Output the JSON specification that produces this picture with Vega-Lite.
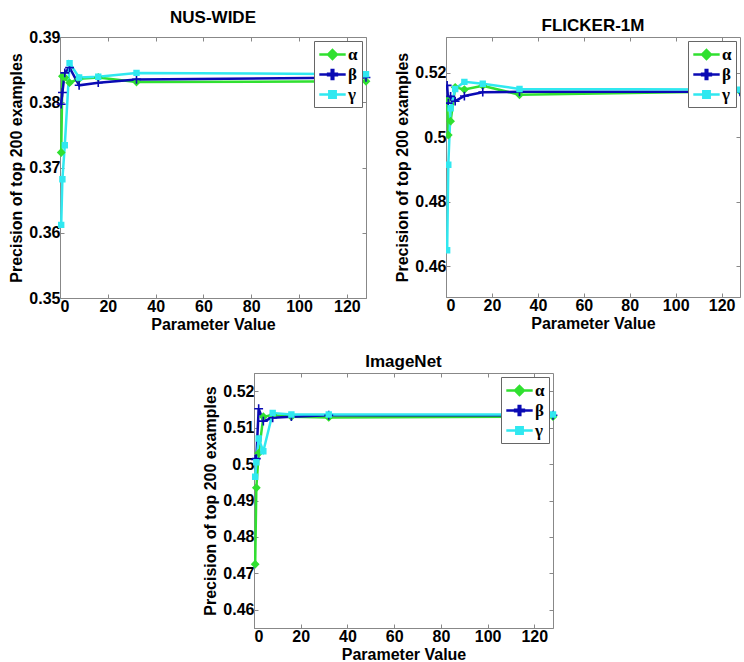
{
 "$schema": "https://vega.github.io/schema/vega-lite/v6.json",
 "padding": {"left": 8, "top": 8, "right": 0, "bottom": 0},
 "background": "white",
 "datasets": {
  "nus": [
   {"x":0.5,"s":"α","v":0.3723},{"x":1,"s":"α","v":0.3840},{"x":2,"s":"α","v":0.3838},{"x":4,"s":"α","v":0.3830},{"x":8,"s":"α","v":0.3836},{"x":16,"s":"α","v":0.3838},{"x":32,"s":"α","v":0.3831},{"x":128,"s":"α","v":0.3832},
   {"x":0.5,"s":"β","v":0.3797},{"x":1,"s":"β","v":0.3815},{"x":2,"s":"β","v":0.3845},{"x":4,"s":"β","v":0.3853},{"x":8,"s":"β","v":0.3826},{"x":16,"s":"β","v":0.3830},{"x":32,"s":"β","v":0.3835},{"x":128,"s":"β","v":0.3838},
   {"x":0.5,"s":"γ","v":0.3612},{"x":1,"s":"γ","v":0.3682},{"x":2,"s":"γ","v":0.3734},{"x":4,"s":"γ","v":0.3860},{"x":8,"s":"γ","v":0.3838},{"x":16,"s":"γ","v":0.3839},{"x":32,"s":"γ","v":0.3845},{"x":128,"s":"γ","v":0.3843}
  ],
  "flickr": [
   {"x":0.5,"s":"α","v":0.5115},{"x":1,"s":"α","v":0.5007},{"x":2,"s":"α","v":0.5050},{"x":4,"s":"α","v":0.5155},{"x":8,"s":"α","v":0.5148},{"x":16,"s":"α","v":0.5160},{"x":32,"s":"α","v":0.5132},{"x":128,"s":"α","v":0.5143},
   {"x":0.5,"s":"β","v":0.5161},{"x":1,"s":"β","v":0.5106},{"x":2,"s":"β","v":0.5127},{"x":4,"s":"β","v":0.5112},{"x":8,"s":"β","v":0.5128},{"x":16,"s":"β","v":0.5140},{"x":32,"s":"β","v":0.5141},{"x":128,"s":"β","v":0.5141},
   {"x":0.5,"s":"γ","v":0.4650},{"x":1,"s":"γ","v":0.4915},{"x":2,"s":"γ","v":0.5090},{"x":4,"s":"γ","v":0.5150},{"x":8,"s":"γ","v":0.5172},{"x":16,"s":"γ","v":0.5166},{"x":32,"s":"γ","v":0.5150},{"x":128,"s":"γ","v":0.5148}
  ],
  "imagenet": [
   {"x":0.5,"s":"α","v":0.4725},{"x":1,"s":"α","v":0.4935},{"x":2,"s":"α","v":0.5030},{"x":4,"s":"α","v":0.5130},{"x":8,"s":"α","v":0.5135},{"x":16,"s":"α","v":0.5130},{"x":32,"s":"α","v":0.5128},{"x":128,"s":"α","v":0.5130},
   {"x":0.5,"s":"β","v":0.5013},{"x":1,"s":"β","v":0.5015},{"x":2,"s":"β","v":0.5152},{"x":4,"s":"β","v":0.5118},{"x":8,"s":"β","v":0.5127},{"x":16,"s":"β","v":0.5130},{"x":32,"s":"β","v":0.5134},{"x":128,"s":"β","v":0.5134},
   {"x":0.5,"s":"γ","v":0.4965},{"x":1,"s":"γ","v":0.5005},{"x":2,"s":"γ","v":0.5070},{"x":4,"s":"γ","v":0.5035},{"x":8,"s":"γ","v":0.5140},{"x":16,"s":"γ","v":0.5136},{"x":32,"s":"γ","v":0.5136},{"x":128,"s":"γ","v":0.5136}
  ]
 },
 "config": {
  "font": "Liberation Sans",
  "view": {"stroke": "#888888", "strokeWidth": 1},
  "axis": {"grid": false, "labelFont": "Liberation Sans", "labelFontSize": 16, "labelFontWeight": "bold", "labelColor": "#000000", "titleFont": "Liberation Sans", "titleFontSize": 16, "titleFontWeight": "bold", "titleColor": "#000000", "domainColor": "#888888", "tickColor": "#888888", "tickSize": -4, "labelPadding": 4},
  "title": {"font": "Liberation Sans", "fontSize": 17, "fontWeight": "bold", "color": "#000000", "offset": 2},
  "legend": {"orient": "top-right", "offset": 4, "padding": 4, "strokeColor": "#666666", "fillColor": "#ffffff", "symbolSize": 256, "symbolStrokeWidth": 2.5, "labelFont": "Liberation Serif", "labelFontSize": 17, "labelFontWeight": "bold", "labelColor": "#000000", "rowPadding": 1, "labelOffset": 6, "symbolOffset": 5}
 },
 "resolve": {"scale": {"color": "independent", "shape": "independent", "stroke": "independent"}},
 "spacing": 19,
 "vconcat": [
  {
   "spacing": 14,
   "resolve": {"scale": {"color": "independent", "shape": "independent", "stroke": "independent"}},
   "hconcat": [
    {
     "title": {"text": "NUS-WIDE"},
     "width": 306, "height": 261,
     "data": {"name": "nus"},
     "layer": [
      {"mark": {"type": "line", "strokeWidth": 2.5},
       "encoding": {
        "x": {"field": "x", "type": "quantitative", "scale": {"domain": [0, 128], "nice": false}, "axis": {"orient": "bottom", "values": [0,20,40,60,80,100,120], "format": "d", "title": "Parameter Value", "titlePadding": 2}},
        "y": {"field": "v", "type": "quantitative", "scale": {"domain": [0.35, 0.39], "nice": false, "zero": false}, "axis": {"orient": "left", "values": [0.35,0.36,0.37,0.38,0.39], "format": ".2~f", "title": "Precision of top 200 examples", "titlePadding": 4}},
        "color": {"field": "s", "type": "nominal", "scale": {"domain": ["α","β","γ"], "range": ["#30e030","#0a0ab4","#30e8f0"]}, "legend": {"title": null}}
       }},
      {"mark": {"type": "point", "filled": true, "size": 256, "opacity": 1},
       "encoding": {
        "x": {"field": "x", "type": "quantitative", "scale": {"domain": [0, 128], "nice": false}, "axis": {"orient": "top", "values": [0,20,40,60,80,100,120], "labels": false, "title": null, "domain": false}},
        "y": {"field": "v", "type": "quantitative", "scale": {"domain": [0.35, 0.39], "nice": false, "zero": false}, "axis": {"orient": "right", "values": [0.35,0.36,0.37,0.38,0.39], "labels": false, "title": null, "domain": false}},
        "color": {"field": "s", "type": "nominal", "scale": {"domain": ["α","β","γ"], "range": ["#30e030","#0a0ab4","#30e8f0"]}, "legend": {"title": null}},
        "stroke": {"field": "s", "type": "nominal", "scale": {"domain": ["α","β","γ"], "range": ["#30e030","#0a0ab4","#30e8f0"]}, "legend": {"title": null}},
        "strokeWidth": {"value": 0},
        "shape": {"field": "s", "type": "nominal", "scale": {"domain": ["α","β","γ"], "range": ["M-1.65,0L1.65,0M0,-0.55L0.55,0L0,0.55L-0.55,0Z","M-1.65,0L1.65,0M-0.55,-0.1L-0.1,-0.1L-0.1,-0.55L0.1,-0.55L0.1,-0.1L0.55,-0.1L0.55,0.1L0.1,0.1L0.1,0.55L-0.1,0.55L-0.1,0.1L-0.55,0.1Z","M-1.65,0L1.65,0M-0.4,-0.4L0.4,-0.4L0.4,0.4L-0.4,0.4Z"]}, "legend": {"title": null}}
       }}
     ],
     "resolve": {"axis": {"x": "independent", "y": "independent"}}
    },
    {
     "title": {"text": "FLICKER-1M"},
     "width": 294, "height": 260,
     "data": {"name": "flickr"},
     "layer": [
      {"mark": {"type": "line", "strokeWidth": 2.5, "clip": true},
       "encoding": {
        "x": {"field": "x", "type": "quantitative", "scale": {"domain": [0, 128], "nice": false}, "axis": {"orient": "bottom", "values": [0,20,40,60,80,100,120], "format": "d", "title": "Parameter Value", "titlePadding": 2}},
        "y": {"field": "v", "type": "quantitative", "scale": {"domain": [0.4505, 0.5311], "nice": false, "zero": false}, "axis": {"orient": "left", "values": [0.46,0.48,0.5,0.52], "format": ".2~f", "title": "Precision of top 200 examples", "titlePadding": 4}},
        "color": {"field": "s", "type": "nominal", "scale": {"domain": ["α","β","γ"], "range": ["#30e030","#0a0ab4","#30e8f0"]}, "legend": {"title": null}}
       }},
      {"mark": {"type": "point", "filled": true, "size": 256, "opacity": 1, "clip": true},
       "encoding": {
        "x": {"field": "x", "type": "quantitative", "scale": {"domain": [0, 128], "nice": false}, "axis": {"orient": "top", "values": [0,20,40,60,80,100,120], "labels": false, "title": null, "domain": false}},
        "y": {"field": "v", "type": "quantitative", "scale": {"domain": [0.4505, 0.5311], "nice": false, "zero": false}, "axis": {"orient": "right", "values": [0.46,0.48,0.5,0.52], "labels": false, "title": null, "domain": false}},
        "color": {"field": "s", "type": "nominal", "scale": {"domain": ["α","β","γ"], "range": ["#30e030","#0a0ab4","#30e8f0"]}, "legend": {"title": null}},
        "stroke": {"field": "s", "type": "nominal", "scale": {"domain": ["α","β","γ"], "range": ["#30e030","#0a0ab4","#30e8f0"]}, "legend": {"title": null}},
        "strokeWidth": {"value": 0},
        "shape": {"field": "s", "type": "nominal", "scale": {"domain": ["α","β","γ"], "range": ["M-1.65,0L1.65,0M0,-0.55L0.55,0L0,0.55L-0.55,0Z","M-1.65,0L1.65,0M-0.55,-0.1L-0.1,-0.1L-0.1,-0.55L0.1,-0.55L0.1,-0.1L0.55,-0.1L0.55,0.1L0.1,0.1L0.1,0.55L-0.1,0.55L-0.1,0.1L-0.55,0.1Z","M-1.65,0L1.65,0M-0.4,-0.4L0.4,-0.4L0.4,0.4L-0.4,0.4Z"]}, "legend": {"title": null}}
       }}
     ],
     "resolve": {"axis": {"x": "independent", "y": "independent"}}
    }
   ]
  },
  {
   "spacing": 0,
   "resolve": {"scale": {"color": "independent", "shape": "independent", "stroke": "independent"}},
   "hconcat": [
    {
     "width": 142, "height": 10,
     "view": {"stroke": null},
     "data": {"values": [{"k": 1}]},
     "mark": {"type": "point", "opacity": 0},
     "encoding": {}
    },
    {
     "title": {"text": "ImageNet"},
     "width": 299, "height": 255,
     "data": {"name": "imagenet"},
     "layer": [
      {"mark": {"type": "line", "strokeWidth": 2.5},
       "encoding": {
        "x": {"field": "x", "type": "quantitative", "scale": {"domain": [0, 128], "nice": false}, "axis": {"orient": "bottom", "values": [0,20,40,60,80,100,120], "format": "d", "title": "Parameter Value", "titlePadding": 2}},
        "y": {"field": "v", "type": "quantitative", "scale": {"domain": [0.455, 0.525], "nice": false, "zero": false}, "axis": {"orient": "left", "values": [0.46,0.47,0.48,0.49,0.5,0.51,0.52], "format": ".2~f", "title": "Precision of top 200 examples", "titlePadding": 4}},
        "color": {"field": "s", "type": "nominal", "scale": {"domain": ["α","β","γ"], "range": ["#30e030","#0a0ab4","#30e8f0"]}, "legend": {"title": null}}
       }},
      {"mark": {"type": "point", "filled": true, "size": 256, "opacity": 1},
       "encoding": {
        "x": {"field": "x", "type": "quantitative", "scale": {"domain": [0, 128], "nice": false}, "axis": {"orient": "top", "values": [0,20,40,60,80,100,120], "labels": false, "title": null, "domain": false}},
        "y": {"field": "v", "type": "quantitative", "scale": {"domain": [0.455, 0.525], "nice": false, "zero": false}, "axis": {"orient": "right", "values": [0.46,0.47,0.48,0.49,0.5,0.51,0.52], "labels": false, "title": null, "domain": false}},
        "color": {"field": "s", "type": "nominal", "scale": {"domain": ["α","β","γ"], "range": ["#30e030","#0a0ab4","#30e8f0"]}, "legend": {"title": null}},
        "stroke": {"field": "s", "type": "nominal", "scale": {"domain": ["α","β","γ"], "range": ["#30e030","#0a0ab4","#30e8f0"]}, "legend": {"title": null}},
        "strokeWidth": {"value": 0},
        "shape": {"field": "s", "type": "nominal", "scale": {"domain": ["α","β","γ"], "range": ["M-1.65,0L1.65,0M0,-0.55L0.55,0L0,0.55L-0.55,0Z","M-1.65,0L1.65,0M-0.55,-0.1L-0.1,-0.1L-0.1,-0.55L0.1,-0.55L0.1,-0.1L0.55,-0.1L0.55,0.1L0.1,0.1L0.1,0.55L-0.1,0.55L-0.1,0.1L-0.55,0.1Z","M-1.65,0L1.65,0M-0.4,-0.4L0.4,-0.4L0.4,0.4L-0.4,0.4Z"]}, "legend": {"title": null}}
       }}
     ],
     "resolve": {"axis": {"x": "independent", "y": "independent"}}
    }
   ]
  }
 ]
}
